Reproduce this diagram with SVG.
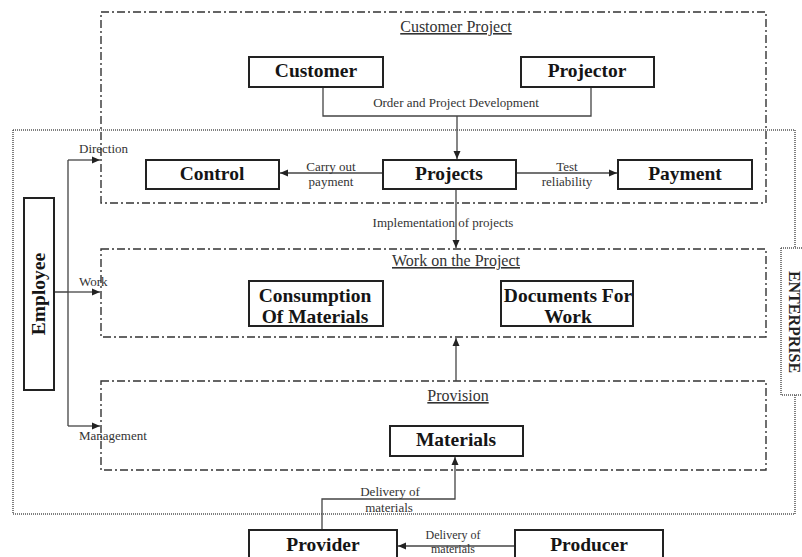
<svg xmlns="http://www.w3.org/2000/svg" width="802" height="557" viewBox="0 0 802 557">
<style>
.bg{fill:#fff}
.node{fill:#fff;stroke:#222;stroke-width:2}
.nt{font-family:"Liberation Serif","Times New Roman",serif;font-weight:bold;font-size:19.5px;fill:#151515;text-anchor:middle}
.lbl{font-family:"Liberation Serif","Times New Roman",serif;font-size:13px;fill:#333;text-anchor:middle}
.lbl-s{font-family:"Liberation Serif","Times New Roman",serif;font-size:13px;fill:#333}
.sm{font-size:12px}
.title{font-family:"Liberation Serif","Times New Roman",serif;font-size:16px;fill:#333;text-anchor:middle;text-decoration:underline}
.group{fill:none;stroke:#333;stroke-width:1.4;stroke-dasharray:8 3 2 3}
.ent{fill:none;stroke:#555;stroke-width:1.5;stroke-dasharray:1 1}
.conn{fill:none;stroke:#444;stroke-width:1.3}
.entt{font-family:"Liberation Serif","Times New Roman",serif;font-weight:bold;font-size:16px;fill:#222;text-anchor:middle}
</style>
<defs>
<marker id="arr" markerUnits="userSpaceOnUse" markerWidth="9" markerHeight="8" refX="8" refY="4" orient="auto">
<path d="M0,0.5 L8,4 L0,7.5 Z" fill="#222"/>
</marker>
</defs>
<rect class="bg" x="0" y="0" width="802" height="557"/>

<g id="enterprise">
<path class="ent" d="M13,130 H795 V248 M781,248 H803 M781,248 V395 H803 M795,395 V514 H13 V130"/>
<text class="entt" transform="translate(789,322) rotate(90)">ENTERPRISE</text>
</g>

<g id="customer-project">
<rect class="group" x="101" y="12" width="665" height="191"/>
<text class="title" x="456" y="32">Customer Project</text>
</g>
<g id="work-on-project">
<rect class="group" x="101" y="249" width="665" height="88"/>
<text class="title" x="456" y="266">Work on the Project</text>
</g>
<g id="provision">
<rect class="group" x="101" y="381" width="665" height="89"/>
<text class="title" x="458" y="401">Provision</text>
</g>

<g id="connectors">
<path class="conn" d="M323,87 V116 H591 V87"/>
<path class="conn" d="M457,116 V159" marker-end="url(#arr)"/>
<path class="conn" d="M383,173 H280" marker-end="url(#arr)"/>
<path class="conn" d="M516,173 H617" marker-end="url(#arr)"/>
<path class="conn" d="M456,189 V248" marker-end="url(#arr)"/>
<path class="conn" d="M456,381 V338" marker-end="url(#arr)"/>
<path class="conn" d="M322,530 V499 H455 V457" marker-end="url(#arr)"/>
<path class="conn" d="M515,546 H398" marker-end="url(#arr)"/>
<path class="conn" d="M54,292 H68 M68,160 V426"/>
<path class="conn" d="M68,160 H100" marker-end="url(#arr)"/>
<path class="conn" d="M68,292 H100" marker-end="url(#arr)"/>
<path class="conn" d="M68,426 H100" marker-end="url(#arr)"/>
<text class="lbl" x="456" y="107">Order and Project Development</text>
<text class="lbl" x="331" y="171">Carry out</text>
<text class="lbl" x="331" y="186">payment</text>
<text class="lbl" x="567" y="171">Test</text>
<text class="lbl" x="567" y="186">reliability</text>
<text class="lbl" x="443" y="227">Implementation of projects</text>
<text class="lbl" x="390" y="496">Delivery of</text>
<text class="lbl" x="389" y="512">materials</text>
<text class="lbl sm" x="453" y="539">Delivery of</text>
<text class="lbl sm" x="453" y="553">materials</text>
<text class="lbl-s" x="79" y="153">Direction</text>
<text class="lbl-s" x="79" y="286">Work</text>
<text class="lbl-s" x="79" y="440">Management</text>
</g>

<g id="customer"><rect class="node" x="249" y="57" width="134" height="30"/><text class="nt" x="316" y="77">Customer</text></g>
<g id="projector"><rect class="node" x="521" y="57" width="133" height="30"/><text class="nt" x="587" y="77">Projector</text></g>
<g id="control"><rect class="node" x="146" y="160" width="133" height="29"/><text class="nt" x="212" y="180">Control</text></g>
<g id="projects"><rect class="node" x="383" y="160" width="133" height="29"/><text class="nt" x="449" y="180">Projects</text></g>
<g id="payment"><rect class="node" x="618" y="160" width="134" height="29"/><text class="nt" x="685" y="180">Payment</text></g>
<g id="consumption"><rect class="node" x="249" y="281" width="134" height="45"/><text class="nt" x="315" y="302">Consumption</text><text class="nt" x="315" y="323">Of Materials</text></g>
<g id="documents"><rect class="node" x="501" y="281" width="132" height="45"/><text class="nt" x="568" y="302">Documents For</text><text class="nt" x="568" y="323">Work</text></g>
<g id="materials"><rect class="node" x="390" y="426" width="133" height="30"/><text class="nt" x="456" y="446">Materials</text></g>
<g id="provider"><rect class="node" x="249" y="530" width="148" height="30"/><text class="nt" x="323" y="551">Provider</text></g>
<g id="producer"><rect class="node" x="515" y="530" width="148" height="30"/><text class="nt" x="589" y="551">Producer</text></g>
<g id="employee"><rect class="node" x="24" y="198" width="30" height="192"/><text class="nt" transform="translate(45,294) rotate(-90)">Employee</text></g>
</svg>
